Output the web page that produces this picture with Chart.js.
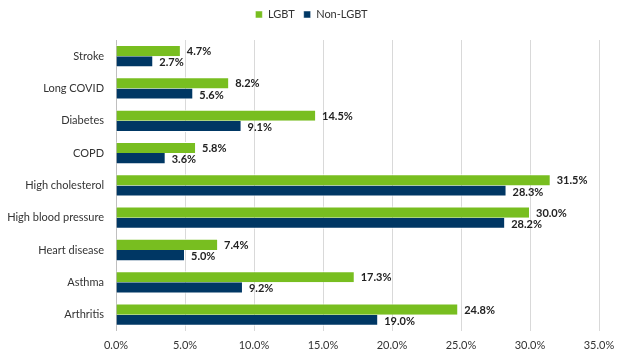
<!DOCTYPE html>
<html>
<head>
<meta charset="utf-8">
<script src="https://cdn.jsdelivr.net/npm/chart.js@4"></script>
<style>
html,body{margin:0;padding:0;background:#fff;}
#wrap{width:624px;height:360px;position:relative;}
</style>
</head>
<body>
<div id="wrap"><canvas id="c" width="624" height="360"></canvas></div>
<script>
const categories = ["Stroke","Long COVID","Diabetes","COPD","High cholesterol","High blood pressure","Heart disease","Asthma","Arthritis"];
const lgbt = [4.7, 8.2, 14.5, 5.8, 31.5, 30.0, 7.4, 17.3, 24.8];
const nonLgbt = [2.7, 5.6, 9.1, 3.6, 28.3, 28.2, 5.0, 9.2, 19.0];
const xTicks = [0,5,10,15,20,25,30,35];

const FONT = "Lato, 'Open Sans', sans-serif";

const labelPlugin = {
  id: 'barLabels',
  afterDatasetsDraw(chart) {
    const ctx = chart.ctx;
    ctx.save();
    ctx.font = "bold 11px " + FONT;
    ctx.fillStyle = '#222';
    ctx.textAlign = 'left';
    ctx.textBaseline = 'middle';
    chart.data.datasets.forEach((ds, di) => {
      const meta = chart.getDatasetMeta(di);
      meta.data.forEach((bar, i) => {
        ctx.fillText(ds.data[i].toFixed(1) + '%', bar.x + 6, bar.y + 1);
      });
    });
    ctx.restore();
  }
};

const legendMargin = {
  id: 'legendMargin',
  beforeInit(chart) {
    const fit = chart.legend.fit;
    chart.legend.fit = function () {
      fit.bind(chart.legend)();
      this.height += 10;
    };
  },
  beforeDraw(chart) {
    if (!chart.$legendShifted) {
      chart.legend.left += 12;
      chart.legend.right += 12;
      chart.$legendShifted = true;
    }
  }
};

new Chart(document.getElementById('c'), {
  type: 'bar',
  data: {
    labels: categories,
    datasets: [
      { label: 'LGBT', data: lgbt, backgroundColor: '#78BE20', borderColor: '#ffffff', borderWidth: {top:1,bottom:0,right:1,left:0}, categoryPercentage: 0.69, barPercentage: 1.0 },
      { label: 'Non-LGBT', data: nonLgbt, backgroundColor: '#003764', borderColor: '#ffffff', borderWidth: {top:0,bottom:1,right:1,left:0}, categoryPercentage: 0.69, barPercentage: 1.0 }
    ]
  },
  options: {
    indexAxis: 'y',
    responsive: false,
    animation: false,
    devicePixelRatio: 1,
    layout: { padding: { left: 0, right: 25, top: 0, bottom: 0 } },
    plugins: {
      legend: {
        position: 'top',
        labels: {
          font: { family: FONT, size: 11 },
          color: '#333',
          boxWidth: 7, boxHeight: 7,
          padding: 9
        }
      },
      tooltip: { enabled: false }
    },
    scales: {
      x: {
        min: 0, max: 35,
        afterBuildTicks(axis) { axis.ticks = xTicks.map(v => ({ value: v })); },
        ticks: {
          callback: v => v.toFixed(1) + '%',
          font: { family: FONT, size: 11 },
          color: '#333',
          padding: 8
        },
        grid: { color: '#d9d9d9', drawTicks: false },
        border: { display: false }
      },
      y: {
        afterFit(axis) { axis.width = 116; },
        ticks: {
          font: { family: FONT, size: 11 },
          color: '#333',
          padding: 12
        },
        grid: { display: false, drawTicks: false },
        border: { display: true, color: '#bfbfbf' }
      }
    }
  },
  plugins: [labelPlugin, legendMargin]
});
</script>
</body>
</html>
